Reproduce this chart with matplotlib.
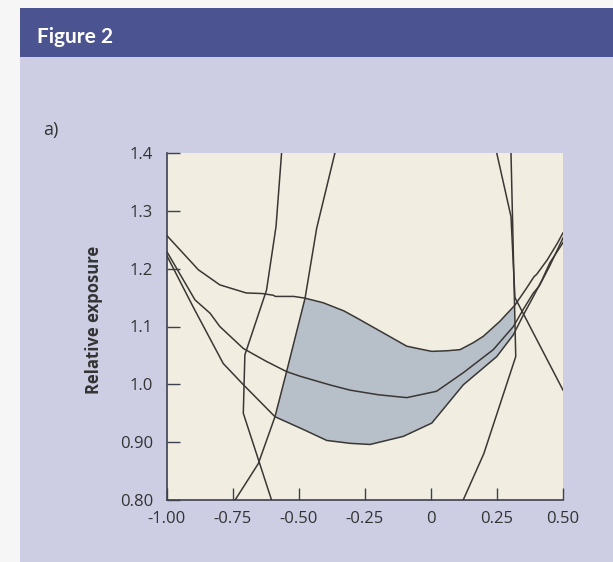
import matplotlib as mpl
mpl.use('agg')
import matplotlib.pyplot as plt
from matplotlib.patches import Rectangle, Polygon
import numpy as np

# relative exposure curves
upper_x = [-1.00, -0.881, -0.80, -0.70, -0.64, -0.597, -0.59, -0.52, -0.477, -0.408, -0.33, -0.282,
           -0.181, -0.092, -0.03, 0.003, 0.06, 0.11, 0.16, 0.198, 0.261, 0.318, 0.36, 0.39, 0.40,
           0.44, 0.48, 0.50]
upper_y = [1.257, 1.198, 1.172, 1.158, 1.157, 1.154, 1.152, 1.152, 1.149, 1.141, 1.127, 1.115,
           1.089, 1.066, 1.060, 1.057, 1.058, 1.060, 1.072, 1.083, 1.109, 1.137, 1.165, 1.186, 1.190,
           1.215, 1.245, 1.262]

mid_x = [-1.00, -0.894, -0.837, -0.80, -0.711, -0.625, -0.547, -0.496, -0.383, -0.307, -0.20,
         -0.092, 0.021, 0.122, 0.236, 0.312, 0.35, 0.388, 0.41, 0.45, 0.50]
mid_y = [1.229, 1.146, 1.123, 1.100, 1.062, 1.040, 1.022, 1.014, 0.999, 0.990, 0.982,
         0.977, 0.988, 1.020, 1.060, 1.100, 1.130, 1.158, 1.170, 1.205, 1.253]

low_x = [-1.00, -0.90, -0.787, -0.71, -0.591, -0.484, -0.395, -0.307, -0.231, -0.105, 0.003,
         0.122, 0.249, 0.311, 0.35, 0.388, 0.42, 0.45, 0.50]
low_y = [1.222, 1.133, 1.036, 0.999, 0.944, 0.922, 0.903, 0.898, 0.896, 0.910, 0.933,
         0.999, 1.048, 1.085, 1.120, 1.152, 1.180, 1.210, 1.245]

# steep boundary lines
lineA_x = [-0.566, -0.587, -0.623, -0.705, -0.711, -0.604]
lineA_y = [1.40, 1.273, 1.163, 1.051, 0.950, 0.80]
lineB_x = [-0.364, -0.433, -0.477, -0.547, -0.591, -0.654, -0.742]
lineB_y = [1.40, 1.27, 1.149, 1.022, 0.944, 0.863, 0.80]
lineC_x = [0.303, 0.321, 0.20, 0.122]
lineC_y = [1.40, 1.048, 0.88, 0.80]
lineD_x = [0.249, 0.303, 0.318, 0.50]
lineD_y = [1.40, 1.29, 1.15, 0.99]

# shaded band limits
band_left_upper = -0.477
band_left_lower = -0.591
band_right = 0.318

xticks = [-1.00, -0.75, -0.50, -0.25, 0, 0.25, 0.50]
xticklabels = ['-1.00', '-0.75', '-0.50', '-0.25', '0', '0.25', '0.50']
yticks = [0.80, 0.90, 1.0, 1.1, 1.2, 1.3, 1.4]
yticklabels = ['0.80', '0.90', '1.0', '1.1', '1.2', '1.3', '1.4']

plt.rcParams['font.family'] = ['Open Sans', 'DejaVu Sans']

W, H = 613, 562
fig = plt.figure(figsize=(W / 100, H / 100), dpi=100)
fig.patch.set_facecolor('#f6f6f7')

# lavender panel and blue header bar
fig.add_artist(Rectangle((20 / W, 0), 1, 1 - 57 / H, transform=fig.transFigure,
                         facecolor='#cdcee4', edgecolor='none', zorder=0))
fig.add_artist(Rectangle((20 / W, 1 - 57 / H), 1, 49 / H, transform=fig.transFigure,
                         facecolor='#4c5391', edgecolor='none', zorder=0))
fig.text(37 / W, 1 - 37 / H, 'Figure 2', color='white', fontsize=15, fontweight='bold',
         va='center', ha='left', family=['Lato', 'DejaVu Sans'])
fig.text(43 / W, 1 - 130 / H, 'a)', color='#333333', fontsize=13, va='center', ha='left')

ax = fig.add_axes([167 / W, 1 - 500 / H, 396 / W, 347 / H])
ax.set_facecolor('#f1eee1')

lc = '#3a3735'
ux, uy = np.array(upper_x), np.array(upper_y)
lx, ly = np.array(low_x), np.array(low_y)
mu = (ux >= band_left_upper) & (ux <= band_right)
ml = (lx >= band_left_lower) & (lx <= band_right)
poly = np.vstack([np.column_stack([ux[mu], uy[mu]]),
                  np.column_stack([lx[ml][::-1], ly[ml][::-1]])])
ax.add_patch(Polygon(poly, closed=True, facecolor='#b7c0c9', edgecolor='none', zorder=1))

ax.plot(upper_x, upper_y, color=lc, lw=1.1, zorder=3)
ax.plot(mid_x, mid_y, color=lc, lw=1.1, zorder=3)
ax.plot(low_x, low_y, color=lc, lw=1.1, zorder=3)
for xs, ys in [(lineA_x, lineA_y), (lineB_x, lineB_y), (lineC_x, lineC_y), (lineD_x, lineD_y)]:
    ax.plot(xs, ys, color=lc, lw=1.1, zorder=3)

ax.set_xlim(-1.0, 0.5)
ax.set_ylim(0.8, 1.4)
ax.set_xticks(xticks)
ax.set_xticklabels(xticklabels)
ax.set_yticks(yticks)
ax.set_yticklabels(yticklabels)
ax.tick_params(direction='in', length=9, width=1.0, color='#3c4150', labelsize=12,
               labelcolor='#333333')
ax.tick_params(axis='x', pad=8)
ax.tick_params(axis='y', pad=10)
for s in ['top', 'right']:
    ax.spines[s].set_visible(False)
for s in ['left', 'bottom']:
    ax.spines[s].set_color('#3c4150')
    ax.spines[s].set_linewidth(1.2)

ax.set_ylabel('Relative exposure', fontsize=12, fontweight='bold', color='#333333')
ax.yaxis.set_label_coords(-0.162, 0.52)

plt.savefig('out.png', dpi=100, facecolor=fig.get_facecolor())
